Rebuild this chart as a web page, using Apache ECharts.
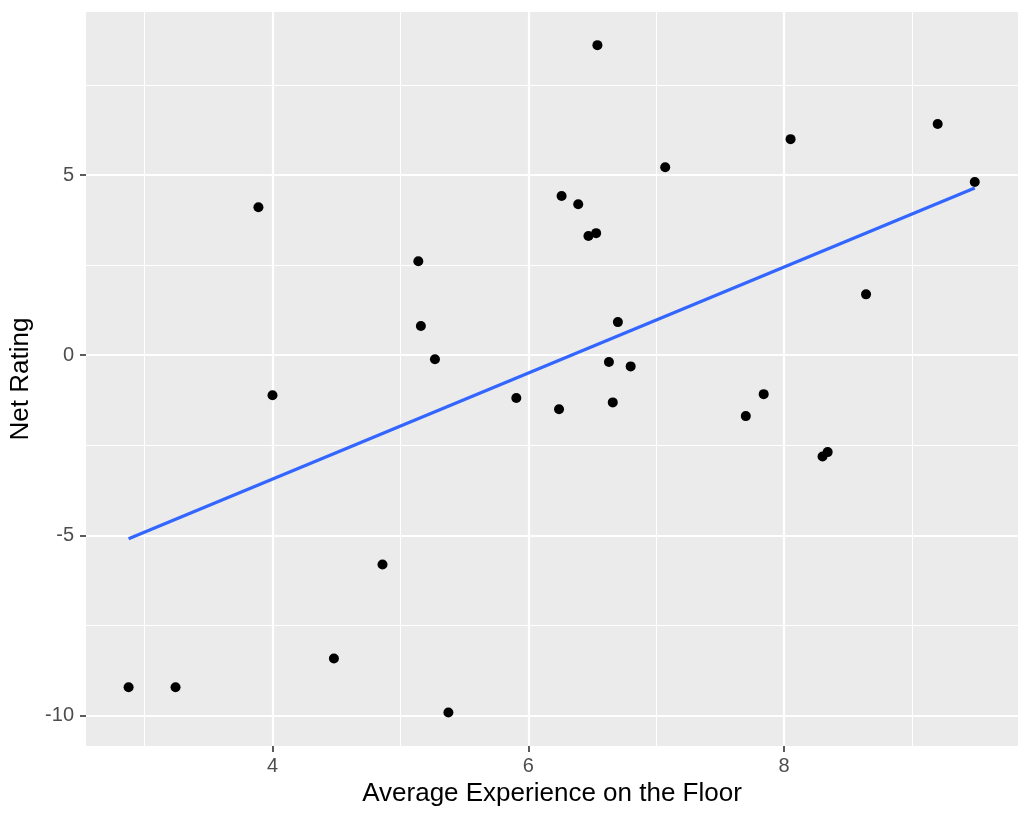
<!DOCTYPE html>
<html>
<head>
<meta charset="utf-8">
<script src="https://cdn.jsdelivr.net/npm/echarts@6/dist/echarts.min.js"></script>
<style>
html,body{margin:0;padding:0;background:#fff;}
#chart{width:1031px;height:821px;}
</style>
</head>
<body>
<div id="chart"></div>
<script>
// Average experience on the floor (x) and net rating (y), one pair per team
const experience = [2.875, 3.242, 3.89, 4.00, 4.48, 4.86, 5.14, 5.16, 5.27, 5.375,
  5.906, 6.24, 6.26, 6.39, 6.47, 6.53, 6.54, 6.63, 6.66, 6.70,
  6.80, 7.07, 7.70, 7.84, 8.05, 8.30, 8.34, 8.64, 9.20, 9.49];
const netRating = [-9.22, -9.22, 4.11, -1.11, -8.42, -5.81, 2.61, 0.81, -0.11, -9.92,
  -1.19, -1.5, 4.42, 4.19, 3.31, 3.39, 8.61, -0.19, -1.31, 0.92,
  -0.31, 5.22, -1.69, -1.08, 6.0, -2.81, -2.69, 1.69, 6.42, 4.81];

const xTicks = [4, 6, 8];
const xMinorGrid = [3, 5, 7, 9];
const yTicks = [-10, -5, 0, 5];
const yMinorGrid = [-7.5, -2.5, 2.5, 7.5];

// linear model fit (geom_smooth method = "lm", no se band)
const n = experience.length;
const mx = experience.reduce((a, b) => a + b, 0) / n;
const my = netRating.reduce((a, b) => a + b, 0) / n;
let sxy = 0, sxx = 0;
for (let i = 0; i < n; i++) {
  sxy += (experience[i] - mx) * (netRating[i] - my);
  sxx += (experience[i] - mx) * (experience[i] - mx);
}
const slope = sxy / sxx;
const intercept = my - slope * mx;
const xLo = Math.min(...experience), xHi = Math.max(...experience);
const fitLine = [[xLo, intercept + slope * xLo], [xHi, intercept + slope * xHi]];

const points = experience.map((x, i) => [x, netRating[i]]);

const FONT = '"Liberation Sans", Arial, Helvetica, sans-serif';

function gridLines(values, key, width) {
  return values.map(v => ({ [key]: v, lineStyle: { color: '#FFFFFF', width: width, type: 'solid' } }));
}

const chart = echarts.init(document.getElementById('chart'), null, { renderer: 'canvas' });
chart.setOption({
  animation: false,
  backgroundColor: '#FFFFFF',
  textStyle: { fontFamily: FONT },
  grid: {
    left: 86, right: 13, top: 12, bottom: 75,
    show: true, backgroundColor: '#EBEBEB', borderWidth: 0
  },
  xAxis: {
    type: 'value',
    position: 'bottom',
    min: 2.542, max: 9.828,
    axisLine: { show: false, onZero: false },
    axisTick: { show: true, customValues: xTicks, length: 6, lineStyle: { color: '#333333', width: 1.6 } },
    axisLabel: { customValues: xTicks, color: '#4D4D4D', fontSize: 20, margin: 10, fontFamily: FONT },
    splitLine: { show: false },
    name: 'Average Experience on the Floor',
    nameLocation: 'middle',
    nameGap: 33,
    nameTextStyle: { color: '#000000', fontSize: 26, fontFamily: FONT }
  },
  yAxis: {
    type: 'value',
    position: 'left',
    min: -10.85, max: 9.53,
    axisLine: { show: false, onZero: false },
    axisTick: { show: true, customValues: yTicks, length: 6, lineStyle: { color: '#333333', width: 1.6 } },
    axisLabel: { customValues: yTicks, color: '#4D4D4D', fontSize: 20, margin: 12, fontFamily: FONT },
    splitLine: { show: false },
    name: 'Net Rating',
    nameLocation: 'middle',
    nameGap: 51,
    nameRotate: 90,
    nameTextStyle: { color: '#000000', fontSize: 26, fontFamily: FONT }
  },
  series: [
    {
      type: 'scatter',
      data: [],
      z: 0,
      silent: true,
      markLine: {
        z: 0,
        silent: true,
        symbol: ['none', 'none'],
        label: { show: false },
        emphasis: { disabled: true },
        animation: false,
        data: [].concat(
          gridLines(xMinorGrid, 'xAxis', 1.1),
          gridLines(yMinorGrid, 'yAxis', 1.1),
          gridLines(xTicks, 'xAxis', 2.2),
          gridLines(yTicks, 'yAxis', 2.2)
        )
      }
    },
    {
      type: 'scatter',
      data: points,
      z: 10,
      symbol: 'circle',
      symbolSize: 10,
      itemStyle: { color: '#000000', opacity: 1 },
      emphasis: { disabled: true }
    },
    {
      type: 'line',
      data: fitLine,
      z: 11,
      showSymbol: false,
      symbol: 'none',
      lineStyle: { color: '#3366FF', width: 3.2 },
      emphasis: { disabled: true }
    }
  ]
});
</script>
</body>
</html>
